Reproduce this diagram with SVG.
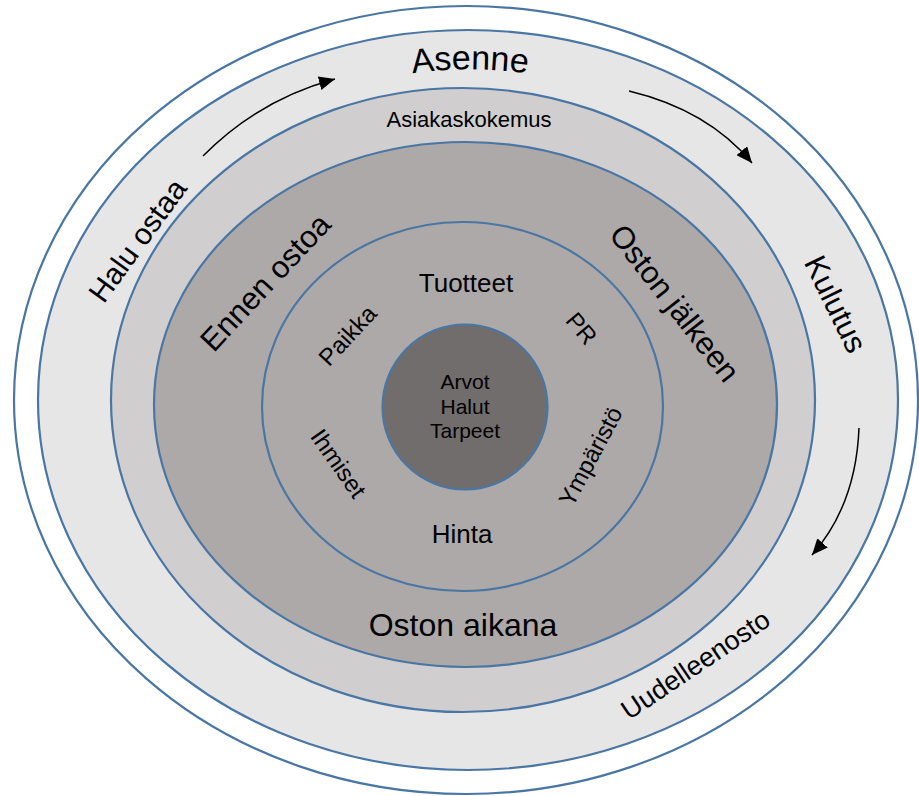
<svg xmlns="http://www.w3.org/2000/svg" width="919" height="796" viewBox="0 0 919 796">
<style>
.ring{stroke:#4a76a3;stroke-width:2.2}
.t{font-family:"Liberation Sans",Arial,sans-serif;fill:#000;text-anchor:middle}
.arrow{fill:none;stroke:#000;stroke-width:1.5}
</style>
<defs>
<marker id="ah" markerUnits="userSpaceOnUse" markerWidth="17" markerHeight="14" refX="16" refY="7" orient="auto">
<path d="M0,0 L16,7 L0,14 z" fill="#000"/>
</marker>
<path id="asennePath" d="M 370,82 A 400,400 0 0,1 570,82"/>
</defs>
<rect width="919" height="796" fill="#fff"/>
<g id="ring-outer"><ellipse class="ring" cx="466" cy="400" rx="452" ry="394" fill="#fff"/></g>
<g id="ring-asenne"><ellipse class="ring" cx="468" cy="400" rx="430" ry="370" fill="#e6e6e6"/></g>
<g id="ring-asiakaskokemus"><ellipse class="ring" cx="463" cy="400" rx="352" ry="312" fill="#d0cecf"/></g>
<g id="ring-vaiheet"><ellipse class="ring" cx="465.5" cy="404.5" rx="311.5" ry="262.5" fill="#ada9a8"/></g>
<g id="ring-4p"><ellipse class="ring" cx="462.5" cy="406.5" rx="200.5" ry="184.5" fill="#ada9a8"/></g>
<g id="core"><circle class="ring" cx="465" cy="407" r="82.5" fill="#716d6c"/>
<text class="t" font-size="21" x="465" y="389">Arvot</text>
<text class="t" font-size="21" x="465" y="414">Halut</text>
<text class="t" font-size="21" x="465" y="438">Tarpeet</text>
</g>
<g id="connectors">
<path class="arrow" d="M 203,156 Q 258,100 335,79" marker-end="url(#ah)"/>
<path class="arrow" d="M 629,91 Q 708,110 752,163" marker-end="url(#ah)"/>
<path class="arrow" d="M 859,428 Q 856,505 812,555" marker-end="url(#ah)"/>
</g>
<g id="labels">
<text class="t" font-size="34"><textPath href="#asennePath" startOffset="50%">Asenne</textPath></text>
<text class="t" font-size="22" x="469" y="127">Asiakaskokemus</text>
<text class="t" font-size="30" transform="translate(137,240) rotate(-54)" y="11">Halu ostaa</text>
<text class="t" font-size="31" transform="translate(836,304) rotate(64)" y="11">Kulutus</text>
<text class="t" font-size="27" transform="translate(695,664) rotate(-34)" y="10">Uudelleenosto</text>
<text class="t" font-size="31" transform="translate(265,282) rotate(-47)" y="11">Ennen ostoa</text>
<text class="t" font-size="31" transform="translate(675,303) rotate(52)" y="11">Oston jälkeen</text>
<text class="t" font-size="32" x="463" y="636">Oston aikana</text>
<text class="t" font-size="26" x="466" y="292">Tuotteet</text>
<text class="t" font-size="26" x="462" y="543">Hinta</text>
<text class="t" font-size="24" transform="translate(347,335) rotate(-47)" y="9">Paikka</text>
<text class="t" font-size="24" transform="translate(582,328) rotate(50)" y="9">PR</text>
<text class="t" font-size="24" transform="translate(339,463) rotate(55)" y="9">Ihmiset</text>
<text class="t" font-size="24" transform="translate(590,456) rotate(-62)" y="9">Ympäristö</text>
</g>
</svg>
